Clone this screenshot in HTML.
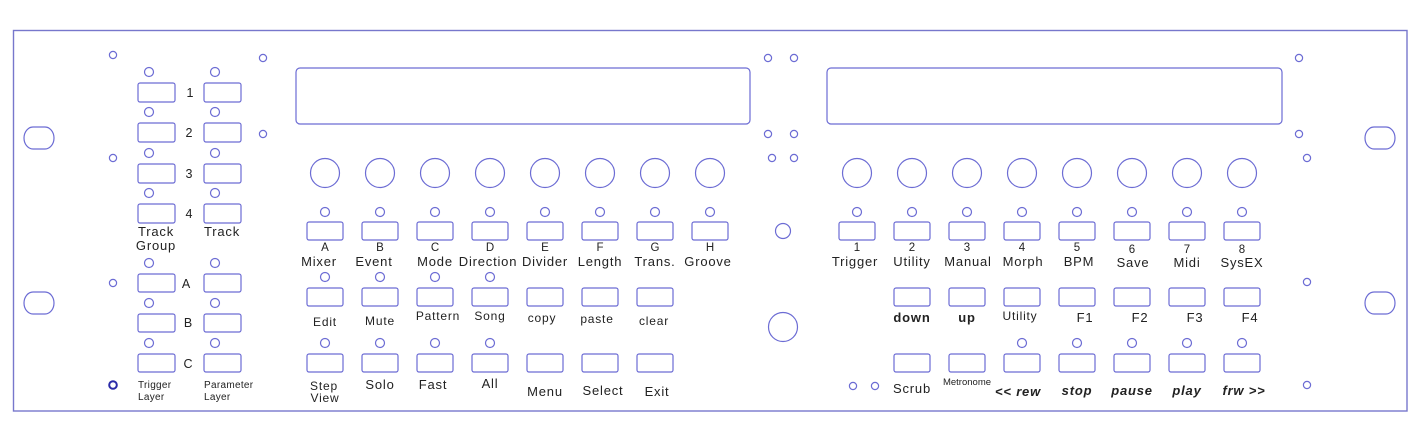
<!DOCTYPE html>
<html><head><meta charset="utf-8"><style>
html,body{margin:0;padding:0;background:#fff;}
svg{display:block;}
text{font-family:"Liberation Sans","DejaVu Sans",sans-serif;fill:#222;}
.s{fill:none;stroke:#6c6cd4;stroke-width:1.2;}
.t{font-size:13px;letter-spacing:0.8px;text-anchor:middle;}
.l{font-size:11.5px;text-anchor:middle;}
.sm{font-size:10px;letter-spacing:0.3px;}
.b{font-weight:bold;font-style:italic;}
</style></head><body>
<svg width="1423" height="433" viewBox="0 0 1423 433" xmlns="http://www.w3.org/2000/svg">
<rect x="13.5" y="30.5" width="1393.5" height="380.5" fill="none" stroke="#7777cc" stroke-width="1.4"/>
<g class="s">
<rect x="24" y="127" width="30" height="22" rx="9" ry="11"/>
<rect x="24" y="292" width="30" height="22" rx="9" ry="11"/>
<rect x="1365" y="127" width="30" height="22" rx="9" ry="11"/>
<rect x="1365" y="292" width="30" height="22" rx="9" ry="11"/>
<circle cx="113" cy="55" r="3.6"/><circle cx="263" cy="58" r="3.6"/><circle cx="263" cy="134" r="3.6"/>
<circle cx="113" cy="158" r="3.6"/><circle cx="113" cy="283" r="3.6"/>
<circle cx="768" cy="58" r="3.6"/><circle cx="794" cy="58" r="3.6"/>
<circle cx="768" cy="134" r="3.6"/><circle cx="794" cy="134" r="3.6"/>
<circle cx="772" cy="158" r="3.6"/><circle cx="794" cy="158" r="3.6"/>
<circle cx="1299" cy="58" r="3.6"/><circle cx="1299" cy="134" r="3.6"/><circle cx="1307" cy="158" r="3.6"/>
<circle cx="1307" cy="282" r="3.6"/><circle cx="1307" cy="385" r="3.6"/>
<circle cx="853" cy="386" r="3.6"/><circle cx="875" cy="386" r="3.6"/>
<circle cx="783" cy="231" r="7.5"/><circle cx="783" cy="327" r="14.5"/>
<rect x="296" y="68" width="454" height="56" rx="4"/>
<rect x="827" y="68" width="455" height="56" rx="4"/>
<circle cx="149" cy="72" r="4.5"/><circle cx="215" cy="72" r="4.5"/>
<rect x="138" y="83" width="37" height="19" rx="2"/><rect x="204" y="83" width="37" height="19" rx="2"/>
<circle cx="149" cy="112" r="4.5"/><circle cx="215" cy="112" r="4.5"/>
<rect x="138" y="123" width="37" height="19" rx="2"/><rect x="204" y="123" width="37" height="19" rx="2"/>
<circle cx="149" cy="153" r="4.5"/><circle cx="215" cy="153" r="4.5"/>
<rect x="138" y="164" width="37" height="19" rx="2"/><rect x="204" y="164" width="37" height="19" rx="2"/>
<circle cx="149" cy="193" r="4.5"/><circle cx="215" cy="193" r="4.5"/>
<rect x="138" y="204" width="37" height="19" rx="2"/><rect x="204" y="204" width="37" height="19" rx="2"/>
<circle cx="149" cy="263" r="4.5"/><circle cx="215" cy="263" r="4.5"/>
<rect x="138" y="274" width="37" height="18" rx="2"/><rect x="204" y="274" width="37" height="18" rx="2"/>
<circle cx="149" cy="303" r="4.5"/><circle cx="215" cy="303" r="4.5"/>
<rect x="138" y="314" width="37" height="18" rx="2"/><rect x="204" y="314" width="37" height="18" rx="2"/>
<circle cx="149" cy="343" r="4.5"/><circle cx="215" cy="343" r="4.5"/>
<rect x="138" y="354" width="37" height="18" rx="2"/><rect x="204" y="354" width="37" height="18" rx="2"/>
<circle cx="325" cy="173" r="14.5"/><circle cx="380" cy="173" r="14.5"/><circle cx="435" cy="173" r="14.5"/><circle cx="490" cy="173" r="14.5"/>
<circle cx="545" cy="173" r="14.5"/><circle cx="600" cy="173" r="14.5"/><circle cx="655" cy="173" r="14.5"/><circle cx="710" cy="173" r="14.5"/>
<circle cx="325" cy="212" r="4.5"/><circle cx="380" cy="212" r="4.5"/><circle cx="435" cy="212" r="4.5"/><circle cx="490" cy="212" r="4.5"/>
<circle cx="545" cy="212" r="4.5"/><circle cx="600" cy="212" r="4.5"/><circle cx="655" cy="212" r="4.5"/><circle cx="710" cy="212" r="4.5"/>
<rect x="307" y="222" width="36" height="18" rx="2"/><rect x="362" y="222" width="36" height="18" rx="2"/><rect x="417" y="222" width="36" height="18" rx="2"/><rect x="472" y="222" width="36" height="18" rx="2"/>
<rect x="527" y="222" width="36" height="18" rx="2"/><rect x="582" y="222" width="36" height="18" rx="2"/><rect x="637" y="222" width="36" height="18" rx="2"/><rect x="692" y="222" width="36" height="18" rx="2"/>
<circle cx="325" cy="277" r="4.5"/><circle cx="380" cy="277" r="4.5"/><circle cx="435" cy="277" r="4.5"/><circle cx="490" cy="277" r="4.5"/>
<rect x="307" y="288" width="36" height="18" rx="2"/><rect x="362" y="288" width="36" height="18" rx="2"/><rect x="417" y="288" width="36" height="18" rx="2"/><rect x="472" y="288" width="36" height="18" rx="2"/>
<rect x="527" y="288" width="36" height="18" rx="2"/><rect x="582" y="288" width="36" height="18" rx="2"/><rect x="637" y="288" width="36" height="18" rx="2"/>
<circle cx="325" cy="343" r="4.5"/><circle cx="380" cy="343" r="4.5"/><circle cx="435" cy="343" r="4.5"/><circle cx="490" cy="343" r="4.5"/>
<rect x="307" y="354" width="36" height="18" rx="2"/><rect x="362" y="354" width="36" height="18" rx="2"/><rect x="417" y="354" width="36" height="18" rx="2"/><rect x="472" y="354" width="36" height="18" rx="2"/>
<rect x="527" y="354" width="36" height="18" rx="2"/><rect x="582" y="354" width="36" height="18" rx="2"/><rect x="637" y="354" width="36" height="18" rx="2"/>
<circle cx="857" cy="173" r="14.5"/><circle cx="912" cy="173" r="14.5"/><circle cx="967" cy="173" r="14.5"/><circle cx="1022" cy="173" r="14.5"/>
<circle cx="1077" cy="173" r="14.5"/><circle cx="1132" cy="173" r="14.5"/><circle cx="1187" cy="173" r="14.5"/><circle cx="1242" cy="173" r="14.5"/>
<circle cx="857" cy="212" r="4.5"/><circle cx="912" cy="212" r="4.5"/><circle cx="967" cy="212" r="4.5"/><circle cx="1022" cy="212" r="4.5"/>
<circle cx="1077" cy="212" r="4.5"/><circle cx="1132" cy="212" r="4.5"/><circle cx="1187" cy="212" r="4.5"/><circle cx="1242" cy="212" r="4.5"/>
<rect x="839" y="222" width="36" height="18" rx="2"/><rect x="894" y="222" width="36" height="18" rx="2"/><rect x="949" y="222" width="36" height="18" rx="2"/><rect x="1004" y="222" width="36" height="18" rx="2"/>
<rect x="1059" y="222" width="36" height="18" rx="2"/><rect x="1114" y="222" width="36" height="18" rx="2"/><rect x="1169" y="222" width="36" height="18" rx="2"/><rect x="1224" y="222" width="36" height="18" rx="2"/>
<rect x="894" y="288" width="36" height="18" rx="2"/><rect x="949" y="288" width="36" height="18" rx="2"/><rect x="1004" y="288" width="36" height="18" rx="2"/>
<rect x="1059" y="288" width="36" height="18" rx="2"/><rect x="1114" y="288" width="36" height="18" rx="2"/><rect x="1169" y="288" width="36" height="18" rx="2"/><rect x="1224" y="288" width="36" height="18" rx="2"/>
<circle cx="1022" cy="343" r="4.5"/><circle cx="1077" cy="343" r="4.5"/><circle cx="1132" cy="343" r="4.5"/><circle cx="1187" cy="343" r="4.5"/><circle cx="1242" cy="343" r="4.5"/>
<rect x="894" y="354" width="36" height="18" rx="2"/><rect x="949" y="354" width="36" height="18" rx="2"/><rect x="1004" y="354" width="36" height="18" rx="2"/>
<rect x="1059" y="354" width="36" height="18" rx="2"/><rect x="1114" y="354" width="36" height="18" rx="2"/><rect x="1169" y="354" width="36" height="18" rx="2"/><rect x="1224" y="354" width="36" height="18" rx="2"/>
</g>
<circle cx="113" cy="385" r="3.8" fill="none" stroke="#2a2aa8" stroke-width="2"/>
<g class="l" style="font-size:12.5px">
<text x="190" y="97">1</text><text x="189" y="137">2</text><text x="189" y="178">3</text><text x="189" y="218">4</text>
<text x="186" y="288">A</text><text x="188" y="327">B</text><text x="188" y="368">C</text>
</g>
<g class="t">
<text x="156" y="236">Track</text><text x="156" y="250">Group</text><text x="222" y="236">Track</text>
</g>
<g class="sm">
<text x="138" y="388">Trigger</text><text x="138" y="400">Layer</text>
<text x="204" y="388">Parameter</text><text x="204" y="400">Layer</text>
</g>
<g class="l">
<text x="325" y="251">A</text><text x="380" y="251">B</text><text x="435" y="251">C</text><text x="490" y="251">D</text>
<text x="545" y="251">E</text><text x="600" y="251">F</text><text x="655" y="251">G</text><text x="710" y="251">H</text>
</g>
<g class="t">
<text x="319" y="266">Mixer</text><text x="374" y="266">Event</text><text x="435" y="266">Mode</text><text x="488" y="266">Direction</text>
<text x="545" y="266">Divider</text><text x="600" y="266">Length</text><text x="655" y="266">Trans.</text><text x="708" y="266">Groove</text>
</g>
<g class="t" style="font-size:12px">
<text x="325" y="326">Edit</text><text x="380" y="325">Mute</text><text x="438" y="320">Pattern</text><text x="490" y="320">Song</text>
<text x="542" y="322">copy</text><text x="597" y="323">paste</text><text x="654" y="325">clear</text>
<text x="324" y="390">Step</text><text x="325" y="402">View</text>
</g>
<g class="t">
<text x="380" y="389">Solo</text><text x="433" y="389">Fast</text><text x="490" y="388">All</text>
<text x="545" y="396">Menu</text><text x="603" y="395">Select</text><text x="657" y="396">Exit</text>
</g>
<g class="l">
<text x="857" y="251">1</text><text x="912" y="251">2</text><text x="967" y="251">3</text><text x="1022" y="251">4</text>
<text x="1077" y="251">5</text><text x="1132" y="253">6</text><text x="1187" y="253">7</text><text x="1242" y="253">8</text>
</g>
<g class="t">
<text x="855" y="266">Trigger</text><text x="912" y="266">Utility</text><text x="968" y="266">Manual</text><text x="1023" y="266">Morph</text>
<text x="1079" y="266">BPM</text><text x="1133" y="267">Save</text><text x="1187" y="267">Midi</text><text x="1242" y="267">SysEX</text>
</g>
<g class="t">
<text x="912" y="322" font-weight="bold">down</text><text x="967" y="322" font-weight="bold">up</text>
<text x="1020" y="320" style="font-size:12px">Utility</text>
<text x="1085" y="322">F1</text><text x="1140" y="322">F2</text><text x="1195" y="322">F3</text><text x="1250" y="322">F4</text>
<text x="912" y="393">Scrub</text>
</g>
<text x="967" y="385" style="font-size:9.5px;text-anchor:middle">Metronome</text>
<g class="t b">
<text x="1018" y="396">&lt;&lt; rew</text><text x="1077" y="395">stop</text><text x="1132" y="395">pause</text><text x="1187" y="395">play</text><text x="1244" y="395">frw &gt;&gt;</text>
</g>
</svg>
</body></html>
